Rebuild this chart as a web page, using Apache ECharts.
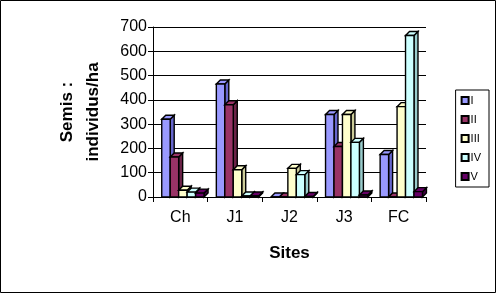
<!DOCTYPE html>
<html><head><meta charset="utf-8">
<script src="https://cdn.jsdelivr.net/npm/echarts@6/dist/echarts.min.js"></script>
<style>html,body{margin:0;padding:0;background:#fff}#c{width:496px;height:293px}</style>
</head><body><div id="c"></div>
<script>
var categories = ['Ch', 'J1', 'J2', 'J3', 'FC'];
var seriesNames = ['I', 'II', 'III', 'IV', 'V'];
var valuesI = [320, 465, 0, 340, 175];
var valuesII = [165, 380, 0, 208, 0];
var valuesIII = [28, 112, 118, 340, 372];
var valuesIV = [20, 4, 92, 225, 665];
var valuesV = [16, 4, 2, 8, 22];
var yTicks = [0, 100, 200, 300, 400, 500, 600, 700];

var colors = ['#9999FF', '#993366', '#FFFFCC', '#CCFFFF', '#660066'];
var sides = ['#6666cc', '#6b2347', '#cccc99', '#99cccc', '#400040'];
var allValues = [valuesI, valuesII, valuesIII, valuesIV, valuesV];

function makeRender(s) {
  return function (params, api) {
    var i = api.value(0), v = api.value(1);
    var base = api.coord([i, 0]);
    var top = api.coord([i, v]);
    var band = api.size([1, 0])[0];
    var w = band * 0.155;
    var d = 4;
    var x0 = base[0] - band / 2 + band * 0.16 + s * w;
    var yb = base[1], yt = top[1];
    var st = {stroke: '#000', lineWidth: 1.4};
    return {
      type: 'group',
      children: [
        {type: 'polygon', shape: {points: [[x0 + w, yt], [x0 + w + d, yt - d], [x0 + w + d, yb - d], [x0 + w, yb]]},
          style: Object.assign({fill: sides[s]}, st)},
        {type: 'polygon', shape: {points: [[x0, yt], [x0 + d, yt - d], [x0 + w + d, yt - d], [x0 + w, yt]]},
          style: Object.assign({fill: colors[s]}, st)},
        {type: 'rect', shape: {x: x0, y: yt, width: w, height: yb - yt},
          style: Object.assign({fill: colors[s]}, st)}
      ]
    };
  };
}

var series = seriesNames.map(function (n, s) {
  return {
    name: n, type: 'custom',
    itemStyle: {color: colors[s], borderColor: '#000', borderWidth: 1},
    renderItem: makeRender(s),
    encode: {x: 0, y: 1},
    data: allValues[s].map(function (v, i) { return [i, v]; })
  };
});

var chart = echarts.init(document.getElementById('c'), null, {renderer: 'canvas'});
chart.setOption({
  animation: false,
  textStyle: {fontFamily: 'Liberation Sans, Arial, sans-serif'},
  graphic: [{type: 'rect', shape: {x: 0.5, y: 0.5, width: 495, height: 292}, style: {fill: 'none', stroke: '#000', lineWidth: 1}, silent: true}],
  grid: {left: 153, right: 70, top: 27, bottom: 96},
  legend: {
    orient: 'vertical', right: 7, top: 90,
    data: seriesNames, icon: 'rect', itemWidth: 7, itemHeight: 7, itemGap: 8,
    padding: [5, 8, 5, 5],
    borderColor: '#000', borderWidth: 1,
    textStyle: {fontSize: 11, color: '#000', padding: [0, 0, 0, -3]}
  },
  xAxis: {
    type: 'category', data: categories,
    name: 'Sites', nameLocation: 'middle', nameGap: 48,
    nameTextStyle: {fontSize: 17, fontWeight: 'bold', color: '#000'},
    axisLine: {lineStyle: {color: '#000'}},
    axisTick: {show: true, length: 5, lineStyle: {color: '#000'}},
    axisLabel: {fontSize: 16, color: '#000', margin: 13}
  },
  yAxis: {
    type: 'value', min: 0, max: 700, interval: 100,
    name: 'Semis :\nindividus/ha', nameLocation: 'middle', nameGap: 47, nameRotate: 90,
    nameTextStyle: {fontSize: 17, fontWeight: 'bold', color: '#000', lineHeight: 26},
    axisLine: {show: true, lineStyle: {color: '#000'}},
    axisTick: {show: true, length: 5, lineStyle: {color: '#000'}},
    axisLabel: {fontSize: 16, color: '#000', margin: 6},
    splitLine: {lineStyle: {color: '#000', width: 1}}
  },
  series: series
});
</script></body></html>
